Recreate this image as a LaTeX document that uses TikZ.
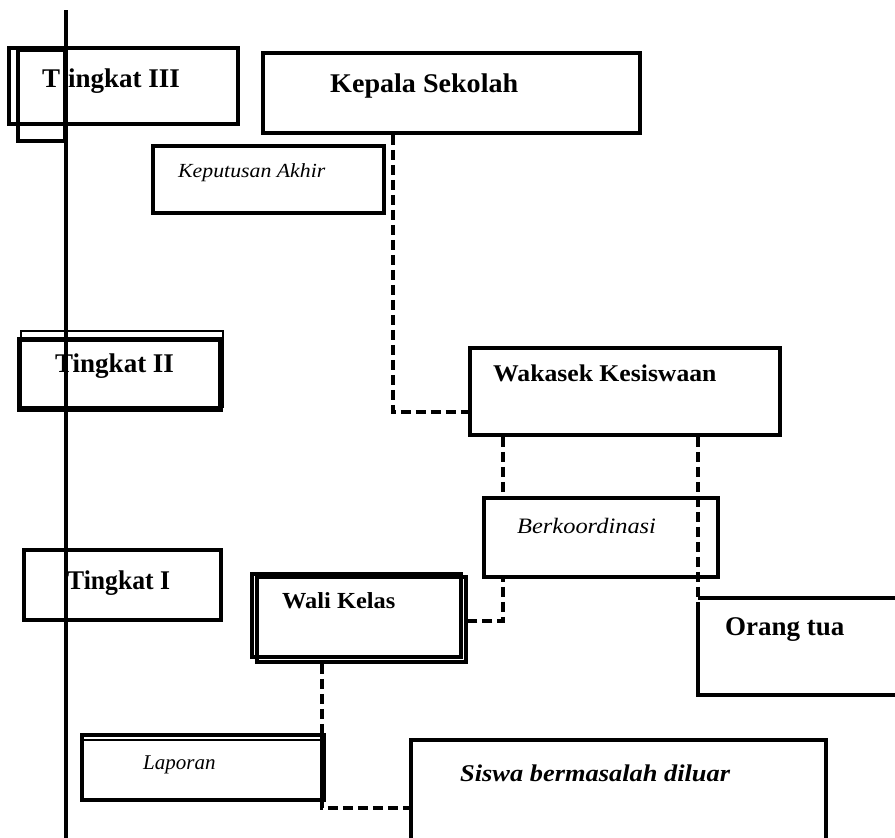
\documentclass[tikz,border=0pt]{standalone}
\usepackage{fontspec}
\setmainfont{Liberation Serif}
\newcommand\fs[1]{\fontsize{#1}{#1}\selectfont}
\newcommand\sx[2]{\scalebox{#1}[1]{#2}}
\tikzset{
  box/.style={draw, line width=3.5pt, fill=white, inner sep=0pt, rectangle},
  thinbox/.style={draw, line width=2pt, inner sep=0pt, rectangle},
  lbl/.style={anchor=base west, inner sep=0pt},
  conn/.style={line width=3.5pt, dash pattern=on 10pt off 5pt},
  solid3/.style={line width=3.5pt}
}
\begin{document}
\begin{tikzpicture}[x=1pt,y=-1pt]
\useasboundingbox (0,0) rectangle (895,838);
% vertical axis
\coordinate (axT) at (66,10);
\coordinate (axB) at (66,845);
\draw[solid3] (axT) -- (axB);

% Tingkat III
\node[box, fill=none, minimum width=229pt, minimum height=76pt] (t3a) at (123.5,86) {};
\node[box, fill=none, minimum width=47pt, minimum height=91pt] (t3b) at (41.5,95.5) {};
\node[lbl] (t3T) at (42,87) {\fs{27}\bfseries T};
\node[lbl] (t3t) at (68,87) {\fs{27}\bfseries ingkat III};

% Kepala Sekolah
\node[box, minimum width=377pt, minimum height=80pt] (kep) at (451.5,93) {};
\node[lbl] (kept) at (330,92) {\fs{27}\bfseries\sx{1.04}{Kepala Sekolah}};

% Keputusan Akhir
\node[box, minimum width=231pt, minimum height=67pt] (kpt) at (268.5,179.5) {};
\node[lbl] (kptt) at (178,177) {\fs{20}\itshape\sx{1.09}{Keputusan Akhir}};

% Tingkat II
\node[thinbox, minimum width=202pt, minimum height=76pt] (t2a) at (122,369) {};
\node[draw, line width=5pt, inner sep=0pt, minimum width=201pt, minimum height=70pt] (t2b) at (119.5,374) {};
\node[lbl] (t2t) at (55,372) {\fs{27}\bfseries Tingkat II};

% Wakasek
\node[box, minimum width=310pt, minimum height=87pt] (wak) at (625,391.5) {};
\node[lbl] (wakt) at (493,381) {\fs{24}\bfseries\sx{1.07}{Wakasek Kesiswaan}};

% connector Kepala -> Wakasek
\coordinate (c1) at (393,412);
\draw[conn] (kep.south -| c1) -- (c1) -- (c1 -| wak.west);

% connector Wakasek -> Wali Kelas (drawn before Berkoordinasi box)
\coordinate (c2) at (503,621);
\node[box, fill=none, draw=none, minimum width=209pt, minimum height=85pt] (wali2) at (361.5,619.5) {};
\draw[conn] (wak.south -| c2) -- (c2) -- (c2 -| wali2.east);

% Berkoordinasi
\node[box, minimum width=234pt, minimum height=79pt] (brk) at (601,537.5) {};
\node[lbl] (brkt) at (517,533) {\fs{22}\itshape\sx{1.11}{Berkoordinasi}};

% Orang tua
\coordinate (o1) at (698,598);
\coordinate (o2) at (900,598);
\coordinate (o3) at (900,695);
\coordinate (o4) at (698,695);
\draw[conn] (wak.south -| o1) -- ([yshift=-14pt]o1);
\draw[solid3] ([yshift=-14pt]o1) -- (o4) -- (o3);
\draw[solid3] (o1) -- (o2);
\node[lbl] (orgt) at (725,635) {\fs{27}\bfseries Orang tua};

% Tingkat I
\node[box, fill=none, minimum width=197pt, minimum height=70pt] (t1) at (122.5,585) {};
\node[lbl] (t1t) at (67,589) {\fs{27}\bfseries\sx{0.95}{Tingkat I}};

% Wali Kelas
\node[box, minimum width=209pt, minimum height=83pt] (wali1) at (356.5,615.5) {};
\node[box, fill=none, minimum width=209pt, minimum height=85pt] (wali2b) at (361.5,619.5) {};
\node[lbl] (walit) at (282,608) {\fs{23}\bfseries\sx{1.06}{Wali Kelas}};

% Laporan
\node[box, minimum width=240pt, minimum height=65pt] (lap) at (202,767.5) {};
\draw[line width=2pt] ([yshift=-7pt]lap.north west) -- ([yshift=-7pt]lap.north east);
\node[lbl] (lapt) at (143,769) {\fs{21}\itshape Laporan};

% Siswa bermasalah diluar
\coordinate (s1) at (411,845);
\coordinate (s2) at (411,740);
\coordinate (s3) at (826,740);
\coordinate (s4) at (826,845);
\draw[solid3] (s1) -- (s2) -- (s3) -- (s4);
\node[lbl] (sist) at (460,781) {\fs{24}\bfseries\itshape\sx{1.1}{Siswa bermasalah diluar}};

% connector Wali Kelas -> Siswa
\coordinate (c4) at (322,808);
\draw[line width=5pt] (lap.north east) -- (lap.south east);
\draw[conn] (wali2b.south -| c4) -- (c4) -- (c4 -| s2);
\end{tikzpicture}
\end{document}
